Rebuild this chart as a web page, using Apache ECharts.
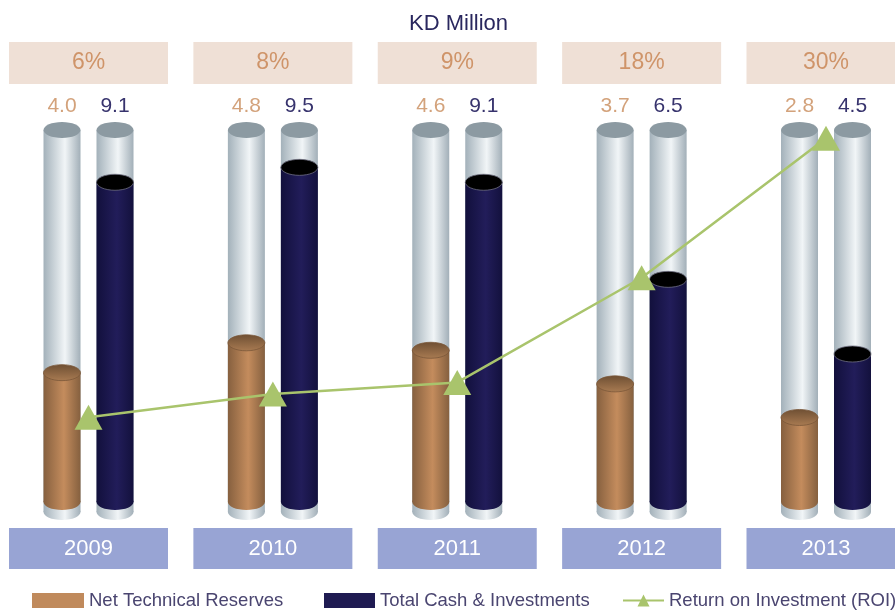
<!DOCTYPE html>
<html>
<head>
<meta charset="utf-8">
<script src="https://cdn.jsdelivr.net/npm/echarts@6/dist/echarts.min.js"></script>
<style>
html,body{margin:0;padding:0;background:#fff;}
#chart{width:895px;height:611px;}
</style>
</head>
<body>
<div id="chart"></div>
<script>
// ---- data ----
const years = ['2009', '2010', '2011', '2012', '2013'];
const netTechnicalReserves = [4.0, 4.8, 4.6, 3.7, 2.8];
const totalCashInvestments = [9.1, 9.5, 9.1, 6.5, 4.5];
const roiPercent = [6, 8, 9, 18, 30];

const FONT = "'Liberation Sans', Arial, sans-serif";
const chart = echarts.init(document.getElementById('chart'));

function hGrad(stops) {
  return new echarts.graphic.LinearGradient(0, 0, 1, 0, stops.map((c) => ({offset: c[0], color: c[1]})));
}
const grayGrad = () => hGrad([[0, '#a3b1ba'], [0.58, '#f1f5f7'], [1, '#a2afb8']]);
const brownGrad = () => hGrad([[0, '#86603f'], [0.55, '#c48c5d'], [1, '#85603f']]);
const navyGrad = () => hGrad([[0, '#12103c'], [0.55, '#221d5a'], [1, '#13113d']]);
const brownTop = () => new echarts.graphic.LinearGradient(0, 0, 0, 1, [{offset: 0, color: '#6e4f33'}, {offset: 1, color: '#a97b52'}]);

function cylinder(offset, fillGradFn, topFillFn, topStroke, labelColor) {
  return function (params, api) {
    const idx = api.value(0);
    const v = api.value(1);
    const base = api.coord([idx, 0]);
    const top = api.coord([idx, v]);
    const cx = base[0] + offset;
    const rx = 18.5, ry = 8, w = 37;
    const gTop = params.coordSys.y;
    const gBot = base[1] - 10;
    const fBot = base[1] - 20;
    const fTop = top[1];
    return {
      type: 'group',
      children: [
        {type: 'rect', shape: {x: cx - rx, y: gTop, width: w, height: gBot - gTop}, style: {fill: grayGrad()}},
        {type: 'ellipse', shape: {cx: cx, cy: gBot, rx: rx, ry: ry}, style: {fill: grayGrad()}},
        {type: 'ellipse', shape: {cx: cx, cy: gTop, rx: rx, ry: ry}, style: {fill: '#8c9aa2'}},
        {type: 'rect', shape: {x: cx - rx, y: fTop, width: w, height: fBot - fTop}, style: {fill: fillGradFn()}},
        {type: 'ellipse', shape: {cx: cx, cy: fBot, rx: rx, ry: ry}, style: {fill: fillGradFn()}},
        {type: 'ellipse', shape: {cx: cx, cy: fTop, rx: rx, ry: ry}, style: {fill: topFillFn(), stroke: topStroke, lineWidth: 0.8}},
        {type: 'text', style: {x: cx, y: gTop - 24, text: v.toFixed(1), fill: labelColor, fontSize: 21, fontFamily: FONT, align: 'center', verticalAlign: 'middle'}}
      ]
    };
  };
}

const legendText = {fontSize: 18.5, color: '#4a4570', fontFamily: FONT};

const option = {
  animation: false,
  title: {
    text: 'KD Million', left: 404, top: 8,
    textStyle: {fontSize: 22, fontWeight: 'normal', color: '#29275e', fontFamily: FONT}
  },
  legend: [
    {data: [{name: 'Net Technical Reserves', icon: 'rect'}], left: 32, top: 591, padding: 0, itemWidth: 52, itemHeight: 15, itemGap: 0, textStyle: legendText},
    {data: [{name: 'Total Cash & Investments', icon: 'rect'}], left: 324, top: 591, padding: 0, itemWidth: 51, itemHeight: 15, itemGap: 0, textStyle: legendText},
    {data: ['Return on Investment (ROI)'], left: 622, top: 591, padding: 0, itemWidth: 41, itemHeight: 15, itemGap: 0, textStyle: legendText}
  ],
  grid: {left: 88.5, right: 69, top: 130, bottom: 89, containLabel: false, outerBoundsMode: 'none'},
  xAxis: [
    {
      type: 'category', data: years, position: 'bottom', boundaryGap: false,
      axisLine: {show: false}, axisTick: {show: false}, splitLine: {show: false},
      axisLabel: {
        interval: 0, margin: 6, fontSize: 22, color: '#ffffff', fontFamily: FONT,
        backgroundColor: '#98a4d4', width: 159, height: 41, lineHeight: 41, align: 'center',
        hideOverlap: false
      }
    },
    {
      type: 'category', data: years, position: 'top', boundaryGap: false,
      axisLine: {show: false}, axisTick: {show: false}, splitLine: {show: false},
      axisLabel: {
        interval: 0, margin: 46, fontSize: 23, color: '#cf9469', fontFamily: FONT,
        backgroundColor: '#efe0d6', width: 159, height: 42, lineHeight: 42, align: 'center',
        hideOverlap: false,
        formatter: (val, i) => roiPercent[i] + '%'
      }
    }
  ],
  yAxis: [
    {type: 'value', min: 0, max: 10.5, show: false, splitLine: {show: false}},
    {type: 'value', min: -3, max: 30.7, show: false, splitLine: {show: false}}
  ],
  series: [
    {
      name: 'Net Technical Reserves', type: 'custom', xAxisIndex: 0, yAxisIndex: 0,
      itemStyle: {color: '#c08a5c'},
      encode: {x: 0, y: 1},
      data: netTechnicalReserves.map((v, i) => [i, v]),
      renderItem: cylinder(-26.5, brownGrad, brownTop, '#7a5738', '#d3a27b'),
      z: 2
    },
    {
      name: 'Total Cash & Investments', type: 'custom', xAxisIndex: 0, yAxisIndex: 0,
      itemStyle: {color: '#1f1b52'},
      encode: {x: 0, y: 1},
      data: totalCashInvestments.map((v, i) => [i, v]),
      renderItem: cylinder(26.5, navyGrad, () => '#000000', '#6f6f80', '#37336d'),
      z: 2
    },
    {
      name: 'Return on Investment (ROI)', type: 'line', xAxisIndex: 0, yAxisIndex: 1,
      data: roiPercent,
      symbol: 'triangle', symbolSize: [28, 25], showAllSymbol: true,
      lineStyle: {color: '#a9c46c', width: 2.5},
      itemStyle: {color: '#a9c46c'},
      z: 5
    }
  ]
};
chart.setOption(option);
</script>
</body>
</html>
